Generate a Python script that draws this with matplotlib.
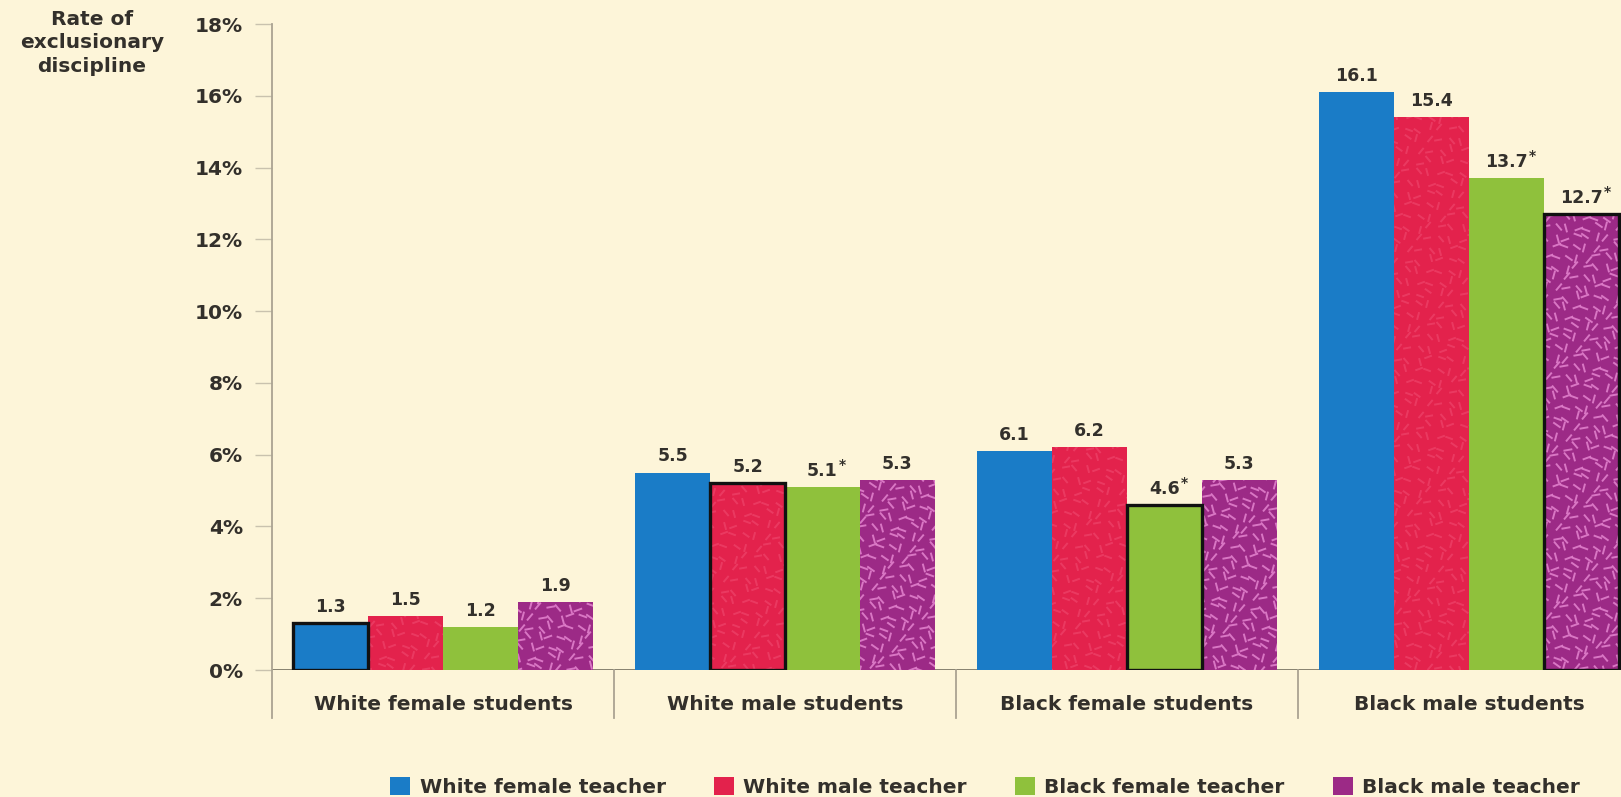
import matplotlib.pyplot as plt
import numpy as np
from matplotlib.collections import LineCollection
from matplotlib.patches import Patch

plt.rcParams['font.family'] = ['DejaVu Sans']
plt.rcParams['font.weight'] = 'bold'

# data (percent)
students = ['White female students', 'White male students',
            'Black female students', 'Black male students']
teachers = ['White female teacher', 'White male teacher',
            'Black female teacher', 'Black male teacher']
white_female_teacher = [1.3, 5.5, 6.1, 16.1]
white_male_teacher = [1.5, 5.2, 6.2, 15.4]
black_female_teacher = [1.2, 5.1, 4.6, 13.7]
black_male_teacher = [1.9, 5.3, 5.3, 12.7]
series = [white_female_teacher, white_male_teacher, black_female_teacher, black_male_teacher]
# significance stars, per teacher series
stars = [[False, False, False, False],
         [False, False, False, False],
         [False, True, True, True],
         [False, False, False, True]]

colors = ['#1a7cc7', '#e3224c', '#8fc13c', '#9c2a86']
tex_colors = [None, '#f04a70', None, '#e07fcb']
bg = '#fdf5d9'
txt = '#33302b'
axis_col = '#aaa392'

W, H = 1621, 797
fig = plt.figure(figsize=(W / 100, H / 100), dpi=100, facecolor=bg)
left, bottom, top = 272 / W, 1 - 670 / H, 1 - 24 / H
ax = fig.add_axes([left, bottom, 1 - left, top - bottom], facecolor=bg)

xmax = 3.5 - (1640 - W) / 342
ax.set_xlim(-0.5, xmax)
ax.set_ylim(0, 18)

px_x = (1 - left) * W / (xmax + 0.5)   # pixels per x unit
px_y = (top - bottom) * H / 18          # pixels per y unit

renderer = fig.canvas.get_renderer()

w = 0.219
x = np.arange(len(students))
angles = [20, 75, 130, 160, 50, 105, 145, 10]
for k, vals in enumerate(series):
    pos = x + (k - 1.5) * w
    bars = ax.bar(pos, vals, width=w, color=colors[k], linewidth=0, zorder=2)
    for g, b in enumerate(bars):
        if tex_colors[k] is not None:
            x0, h = b.get_x(), b.get_height()
            segs = []
            step = 10 if k == 3 else 11
            ni = int(w * px_x / step) + 2
            nj = int(h * px_y / step) + 2
            for i in range(ni):
                for j in range(nj):
                    cx = i * step + ((j * 7 + i * 3) % 6)
                    cy = j * step + ((i * 5 + j * 2) % 6)
                    a = np.deg2rad(angles[(i * 3 + j * 5 + g) % len(angles)])
                    L = 4.5 if k == 3 else 4
                    dx, dy = L * np.cos(a), L * np.sin(a)
                    segs.append([(x0 + (cx - dx) / px_x, (cy - dy) / px_y),
                                 (x0 + (cx + dx) / px_x, (cy + dy) / px_y)])
            lc = LineCollection(segs, colors=tex_colors[k], linewidths=1.4,
                                alpha=0.9 if k == 3 else 0.6, zorder=3)
            ax.add_collection(lc)
            lc.set_clip_path(b)
        if g == k:
            ax.bar(b.get_x() + w / 2, b.get_height(), width=w, fill=False,
                   edgecolor='#111111', linewidth=2.4, zorder=4)
        cx = b.get_x() + w / 2
        t = ax.text(cx, b.get_height() + 0.2, f'{vals[g]:.1f}', ha='center', va='bottom',
                    fontsize=12.5, color=txt, zorder=5)
        if stars[k][g]:
            ext = t.get_window_extent(renderer)
            sx, sy = ax.transData.inverted().transform((ext.x1 + 1, ext.y1 - 10))
            ax.text(sx, sy, '*', ha='left', va='bottom', fontsize=10, color=txt, zorder=5)

# axes styling
for s in ['top', 'right', 'bottom']:
    ax.spines[s].set_visible(False)
ax.spines['left'].set_color(axis_col)
ax.spines['left'].set_linewidth(1.3)
ax.spines['left'].set_bounds(-48 / px_y, 18)
ax.axhline(0, color='#7d7868', linewidth=1.3, zorder=1)
ax.set_yticks(np.arange(0, 19, 2))
ax.set_yticklabels([f'{v}%' for v in range(0, 19, 2)], fontsize=14.5, color=txt)
ax.tick_params(axis='y', length=12, width=1.0, color='#c9c2ae', pad=9)
ax.set_xticks([])
ax.set_ylim(0, 18)

# category labels and separators below the axis
for g, name in enumerate(students):
    ax.text(g, -35 / px_y, name, ha='center', va='center', fontsize=14.5, color=txt)
sep_y = -48 / px_y
for b in np.arange(0.5, 3.6, 1.0):
    ax.plot([b, b], [0, sep_y], color=axis_col, linewidth=1.3, clip_on=False, zorder=1)

fig.text(92 / W, 1 - 10 / H, 'Rate of\nexclusionary\ndiscipline', ha='center', va='top',
         fontsize=14.5, color=txt, linespacing=1.3)

handles = [Patch(facecolor=c, edgecolor='none') for c in colors]
leg = fig.legend(handles, teachers, loc='center', bbox_to_anchor=(985 / W, 1 - 787 / H),
                 ncol=4, frameon=False, fontsize=14.5, handlelength=1.0, handleheight=1.0,
                 handletextpad=0.45, columnspacing=2.4, borderaxespad=0, borderpad=0)
for t in leg.get_texts():
    t.set_color(txt)

fig.savefig('out.png', dpi=100, facecolor=bg)
